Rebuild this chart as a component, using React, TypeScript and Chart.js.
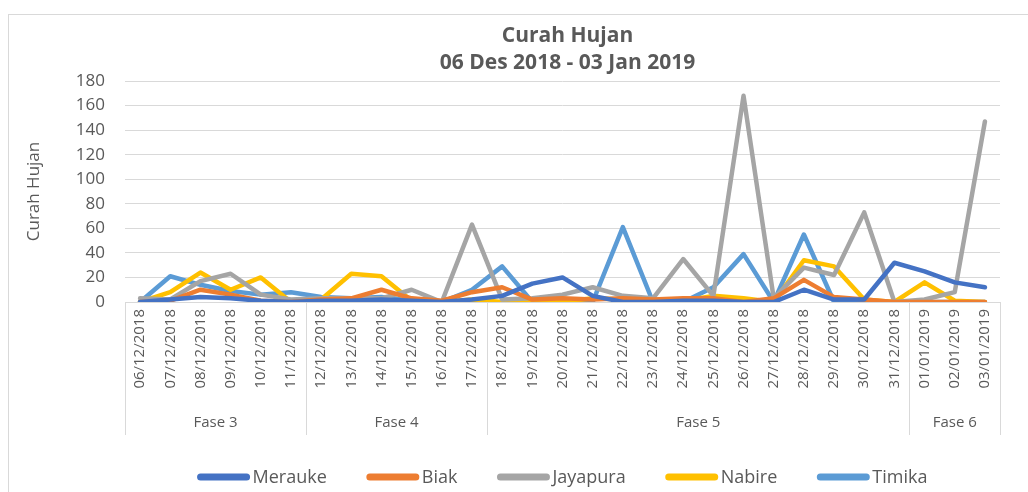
import React, { useEffect, useRef } from 'react';
import { Chart, registerables } from 'chart.js';

Chart.register(...registerables);

const dates = [
  '06/12/2018', '07/12/2018', '08/12/2018', '09/12/2018', '10/12/2018', '11/12/2018',
  '12/12/2018', '13/12/2018', '14/12/2018', '15/12/2018', '16/12/2018', '17/12/2018',
  '18/12/2018', '19/12/2018', '20/12/2018', '21/12/2018', '22/12/2018', '23/12/2018',
  '24/12/2018', '25/12/2018', '26/12/2018', '27/12/2018', '28/12/2018', '29/12/2018',
  '30/12/2018', '31/12/2018', '01/01/2019', '02/01/2019', '03/01/2019',
];

const phaseLabels = ['Fase 3', 'Fase 4', 'Fase 5', 'Fase 6'];
const phaseCounts = [6, 6, 14, 3];

const merauke = [0, 2, 4, 3, 1, 0, 1, 1, 2, 1, 0, 2, 5, 15, 20, 5, 0, 0, 1, 1, 0, 0, 10, 2, 2, 32, 25, 16, 12];
const biak = [0, 1, 10, 6, 1, 0, 2, 3, 10, 3, 1, 8, 12, 2, 3, 2, 3, 2, 3, 3, 0, 3, 18, 4, 2, 0, 0, 0, 0];
const jayapura = [3, 2, 17, 23, 6, 2, 3, 3, 3, 10, 0, 63, 2, 3, 6, 12, 5, 3, 35, 5, 168, 3, 28, 22, 73, 0, 2, 8, 147];
const nabire = [0, 8, 24, 10, 20, 0, 2, 23, 21, 1, 0, 2, 0, 0, 0, 3, 2, 1, 1, 5, 3, 0, 34, 29, 2, 0, 16, 1, 0];
const timika = [0, 21, 14, 9, 6, 8, 4, 3, 4, 1, 0, 10, 29, 0, 0, 0, 61, 0, 0, 12, 39, 0, 55, 0, 0, 0, 0, 0, 0];

const seriesNames = ['Merauke', 'Biak', 'Jayapura', 'Nabire', 'Timika'];
const seriesColors = ['#4472C4', '#ED7D31', '#A5A5A5', '#FFC000', '#5B9BD5'];

const yTicks = [0, 20, 40, 60, 80, 100, 120, 140, 160, 180];

const titleLines = ['Curah Hujan', '06 Des 2018 - 03 Jan 2019'];
const yAxisTitle = 'Curah Hujan';

const FONT = "'Open Sans', 'Noto Sans', sans-serif";
const TEXT = '#595959';
const GRID = '#d9d9d9';

const titlePlugin = {
  id: 'customTitle',
  afterDraw(chart: any) {
    const ctx = chart.ctx;
    const ca = chart.chartArea;
    const cx = (ca.left + ca.right) / 2 + 5;
    ctx.save();
    ctx.fillStyle = TEXT;
    ctx.font = `bold 21px ${FONT}`;
    ctx.textAlign = 'center';
    ctx.textBaseline = 'middle';
    ctx.fillText(titleLines[0], cx, 36);
    ctx.fillText(titleLines[1], cx, 63);
    ctx.restore();
  },
};

const groupPlugin = {
  id: 'phaseGroups',
  afterDraw(chart: any) {
    const x = chart.scales.x;
    const ca = chart.chartArea;
    const ctx = chart.ctx;
    const top = ca.bottom;
    const bottom = top + 133;
    ctx.save();
    ctx.strokeStyle = GRID;
    ctx.lineWidth = 1;
    ctx.fillStyle = TEXT;
    ctx.font = `15px ${FONT}`;
    ctx.textAlign = 'center';
    ctx.textBaseline = 'middle';
    let start = 0;
    phaseCounts.forEach((count, gi) => {
      const end = start + count - 1;
      const l = start === 0 ? ca.left : (x.getPixelForValue(start - 1) + x.getPixelForValue(start)) / 2;
      const r = end === dates.length - 1 ? ca.right : (x.getPixelForValue(end) + x.getPixelForValue(end + 1)) / 2;
      [l, r].forEach((px) => {
        const p = Math.round(px) + 0.5;
        ctx.beginPath();
        ctx.moveTo(p, top);
        ctx.lineTo(p, bottom);
        ctx.stroke();
      });
      ctx.fillText(phaseLabels[gi], (l + r) / 2, top + 121);
      start += count;
    });
    ctx.restore();
  },
};

const legendPlugin = {
  id: 'customLegend',
  afterDraw(chart: any) {
    const ctx = chart.ctx;
    const ca = chart.chartArea;
    const lineLen = 52;
    const gapText = 3;
    const gapItem = 40;
    ctx.save();
    ctx.font = `18px ${FONT}`;
    const items = chart.data.datasets.map((ds: any) => ({
      label: ds.label,
      color: ds.borderColor,
      w: lineLen + gapText + ctx.measureText(ds.label).width,
    }));
    const total = items.reduce((s: number, it: any) => s + it.w, 0) + gapItem * (items.length - 1);
    let xPos = (ca.left + ca.right) / 2 - total / 2;
    const y = 477;
    items.forEach((it: any) => {
      ctx.strokeStyle = it.color;
      ctx.lineWidth = 7;
      ctx.lineCap = 'round';
      ctx.beginPath();
      ctx.moveTo(xPos + 3, y);
      ctx.lineTo(xPos + lineLen - 3, y);
      ctx.stroke();
      ctx.fillStyle = TEXT;
      ctx.textAlign = 'left';
      ctx.textBaseline = 'middle';
      ctx.fillText(it.label, xPos + lineLen + gapText, y + 1);
      xPos += it.w + gapItem;
    });
    ctx.restore();
  },
};

export default function App() {
  const ref = useRef<HTMLCanvasElement | null>(null);

  useEffect(() => {
    if (!ref.current) return;
    const seriesData = [merauke, biak, jayapura, nabire, timika];
    const chart = new Chart(ref.current, {
      type: 'line',
      data: {
        labels: dates,
        datasets: seriesNames.map((name, i) => ({
          label: name,
          data: seriesData[i],
          borderColor: seriesColors[i],
          backgroundColor: seriesColors[i],
          borderWidth: 4.5,
          pointRadius: 0,
          pointHoverRadius: 0,
          tension: 0,
          fill: false,
          borderJoinStyle: 'round' as const,
          borderCapStyle: 'round' as const,
        })),
      },
      options: {
        animation: false,
        responsive: false,
        maintainAspectRatio: false,
        layout: { padding: { left: 0, right: 28, top: 81, bottom: 60 } },
        plugins: {
          legend: { display: false },
          tooltip: { enabled: false },
          title: { display: false },
        },
        scales: {
          x: {
            type: 'category',
            offset: true,
            grid: { display: false, drawTicks: false },
            border: { display: true, color: GRID, width: 1 },
            ticks: {
              color: TEXT,
              font: { family: FONT, size: 15 },
              minRotation: 90,
              maxRotation: 90,
              autoSkip: false,
              padding: 7,
            },
            afterFit(scale: any) {
              scale.height = 130;
            },
          },
          y: {
            min: 0,
            max: 180,
            afterBuildTicks(scale: any) {
              scale.ticks = yTicks.map((v) => ({ value: v }));
            },
            grid: { color: GRID, lineWidth: 1, drawTicks: false },
            border: { display: false },
            ticks: {
              color: TEXT,
              font: { family: FONT, size: 17 },
              padding: 20,
            },
            title: {
              display: true,
              text: yAxisTitle,
              color: TEXT,
              font: { family: FONT, size: 17 },
              padding: { top: 24, bottom: 0 },
            },
            afterFit(scale: any) {
              scale.width = 125;
            },
          },
        },
      },
      plugins: [titlePlugin, groupPlugin, legendPlugin],
    });
    return () => chart.destroy();
  }, []);

  return (
    <div style={{ position: 'absolute', left: 0, top: 0, width: 1028, height: 492, background: '#fff', overflow: 'hidden' }}>
      <div
        style={{
          position: 'absolute',
          left: 8,
          top: 14,
          width: 1040,
          height: 520,
          border: '1px solid #d9d9d9',
          boxSizing: 'border-box',
        }}
      />
      <canvas ref={ref} width={1028} height={492} style={{ position: 'absolute', left: 0, top: 0, width: 1028, height: 492 }} />
    </div>
  );
}
